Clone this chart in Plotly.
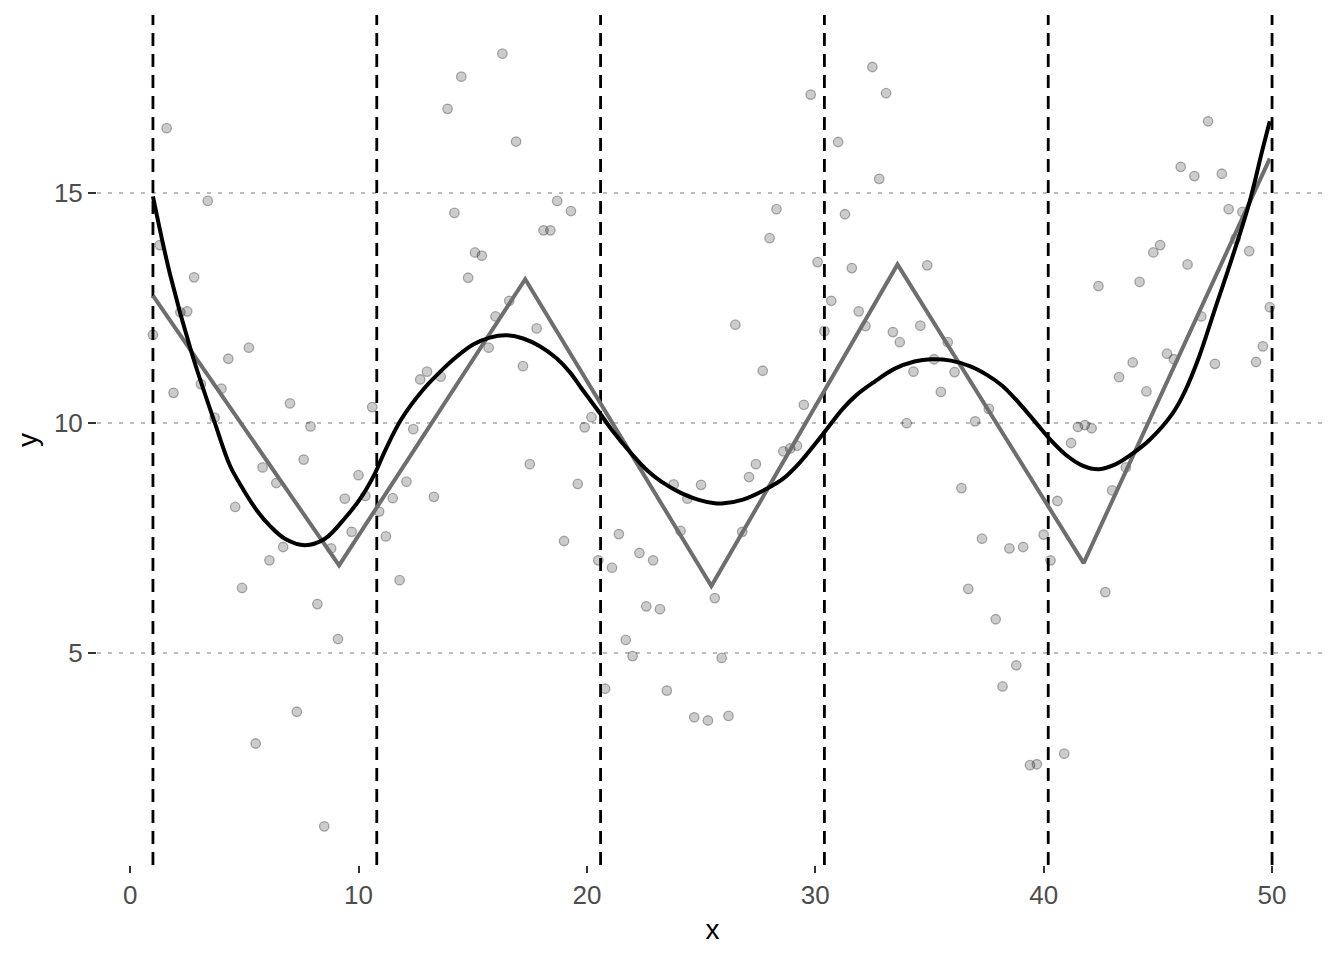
import plotly.graph_objects as go

# ---- scatter data ----
x_pts = [1.0, 1.3, 1.6, 1.9, 2.2, 2.5, 2.8, 3.1, 3.4, 3.7, 4.0, 4.3, 4.6, 4.9, 5.2, 5.5, 5.8, 6.1, 6.4, 6.7,
         7.0, 7.3, 7.6, 7.9, 8.2, 8.5, 8.8, 9.1, 9.4, 9.7, 10.0, 10.3, 10.6, 10.9, 11.2, 11.5, 11.8, 12.1, 12.4, 12.7,
         13.0, 13.3, 13.6, 13.9, 14.2, 14.5, 14.8, 15.1, 15.4, 15.7, 16.0, 16.3, 16.6, 16.9, 17.2, 17.5, 17.8, 18.1, 18.4, 18.7,
         19.0, 19.3, 19.6, 19.9, 20.2, 20.5, 20.8, 21.1, 21.4, 21.7, 22.0, 22.3, 22.6, 22.9, 23.2, 23.5, 23.8, 24.1, 24.4, 24.7,
         25.0, 25.3, 25.6, 25.9, 26.2, 26.5, 26.8, 27.1, 27.4, 27.7, 28.0, 28.3, 28.6, 28.9, 29.2, 29.5, 29.8, 30.1, 30.4, 30.7,
         31.0, 31.3, 31.6, 31.9, 32.2, 32.5, 32.8, 33.1, 33.4, 33.7, 34.0, 34.3, 34.6, 34.9, 35.2, 35.5, 35.8, 36.1, 36.4, 36.7,
         37.0, 37.3, 37.6, 37.9, 38.2, 38.5, 38.8, 39.1, 39.4, 39.7, 40.0, 40.3, 40.6, 40.9, 41.2, 41.5, 41.8, 42.1, 42.4, 42.7,
         43.0, 43.3, 43.6, 43.9, 44.2, 44.5, 44.8, 45.1, 45.4, 45.7, 46.0, 46.3, 46.6, 46.9, 47.2, 47.5, 47.8, 48.1, 48.4, 48.7,
         49.0, 49.3, 49.6, 49.9]
y_pts = [11.91, 13.86, 16.40, 10.65, 12.40, 12.42, 13.16, 10.84, 14.82, 10.11, 10.74, 11.39, 8.17, 6.41, 11.63, 3.03, 9.03, 7.01, 8.69, 7.30,
         10.42, 3.72, 9.20, 9.92, 6.06, 1.23, 7.27, 5.30, 8.35, 7.63, 8.86, 8.41, 10.34, 8.07, 7.53, 8.36, 6.58, 8.72, 9.86, 10.94,
         11.11, 8.39, 11.00, 16.82, 14.56, 17.52, 13.15, 13.70, 13.63, 11.63, 12.31, 18.02, 12.65, 16.11, 11.23, 9.10, 12.05, 14.18, 14.18, 14.82,
         7.43, 14.60, 8.67, 9.90, 10.12, 7.01, 4.22, 6.85, 7.58, 5.28, 4.93, 7.17, 6.01, 7.01, 5.95, 4.18, 8.66, 7.65, 8.35, 3.60,
         8.65, 3.53, 6.19, 4.89, 3.63, 12.13, 7.63, 8.82, 9.10, 11.13, 14.01, 14.64, 9.38, 9.44, 9.50, 10.39, 17.13, 13.49, 11.99, 12.65,
         16.10, 14.53, 13.36, 12.42, 12.10, 17.73, 15.30, 17.16, 11.97, 11.75, 9.99, 11.11, 12.11, 13.42, 11.38, 10.67, 11.75, 11.10, 8.58, 6.39,
         10.03, 7.48, 10.30, 5.73, 4.27, 7.27, 4.73, 7.30, 2.56, 2.58, 7.57, 7.01, 8.30, 2.81, 9.56, 9.91, 9.95, 9.88, 12.97, 6.32,
         8.53, 10.99, 9.03, 11.31, 13.06, 10.68, 13.70, 13.86, 11.50, 11.38, 15.56, 13.44, 15.36, 12.31, 16.55, 11.28, 15.41, 14.64, 14.00, 14.58,
         13.73, 11.32, 11.66, 12.51]

# ---- smooth fit (black) ----
x_smooth = [1.0, 1.75, 2.7, 3.72, 4.37, 4.81, 5.54, 6.12, 6.78, 7.66, 8.53, 9.41, 10.13, 10.72, 11.15, 11.88, 12.8,
            13.56, 14.14, 15.02, 15.75, 16.48, 17.21, 17.94, 18.67, 19.25, 19.76, 20.58, 21.07, 21.95, 22.67, 23.26,
            24.13, 24.86, 25.6, 26.0, 26.83, 27.85, 28.58, 29.31, 30.33, 31.2, 31.8, 32.59, 33.46, 34.34, 35.07, 35.94,
            36.82, 37.55, 38.2, 38.79, 39.51, 40.24, 40.98, 41.7, 42.43, 43.16, 43.89, 44.62, 45.64, 46.2, 46.81,
            47.54, 48.27, 49.0, 49.58, 49.9]
y_smooth = [14.92, 13.22, 11.51, 9.98, 9.07, 8.67, 8.10, 7.76, 7.48, 7.34, 7.48, 7.93, 8.39, 8.90, 9.38, 10.08, 10.70,
            11.10, 11.37, 11.70, 11.85, 11.90, 11.83, 11.66, 11.40, 11.10, 10.75, 10.20, 9.86, 9.33, 8.95, 8.72,
            8.47, 8.33, 8.25, 8.25, 8.33, 8.56, 8.78, 9.13, 9.75, 10.30, 10.60, 10.89, 11.17, 11.33, 11.38, 11.35,
            11.22, 11.03, 10.80, 10.50, 10.09, 9.66, 9.30, 9.07, 8.99, 9.10, 9.33, 9.62, 10.20, 10.70, 11.44,
            12.53, 13.61, 14.77, 15.93, 16.55]

# ---- piecewise linear fit (grey) ----
x_linear = [1.0, 9.15, 17.3, 25.45, 33.6, 41.75, 49.9]
y_linear = [12.76, 6.90, 13.12, 6.45, 13.44, 6.95, 15.74]

# ---- knot positions (dashed vertical lines) ----
knots = [1.0, 10.8, 20.6, 30.4, 40.2, 50.0]

x_ticks = [0, 10, 20, 30, 40, 50]
y_ticks = [5, 10, 15]

# axis ranges with ggplot-style 5% expansion
xmin, xmax = min(min(x_pts), min(knots)), max(max(x_pts), max(knots))
ymin, ymax = min(y_pts), max(y_pts)
xpad, ypad = 0.05 * (xmax - xmin), 0.05 * (ymax - ymin)
xr = [xmin - xpad, xmax + xpad]
yr = [ymin - ypad, ymax + ypad]

fig = go.Figure()

fig.add_trace(go.Scatter(
    x=x_pts, y=y_pts, mode="markers",
    marker=dict(size=9.5, color="rgba(0,0,0,0.2)", line=dict(color="rgba(0,0,0,0.3)", width=1.3)),
    showlegend=False, hoverinfo="x+y"))

vx, vy = [], []
for k in knots:
    vx += [k, k, None]
    vy += [yr[0], yr[1], None]
fig.add_trace(go.Scatter(
    x=vx, y=vy, mode="lines",
    line=dict(color="black", width=2.8, dash="13px,8px"),
    showlegend=False, hoverinfo="skip"))

fig.add_trace(go.Scatter(
    x=x_linear, y=y_linear, mode="lines",
    line=dict(color="#6e6e6e", width=4.0),
    showlegend=False))

fig.add_trace(go.Scatter(
    x=x_smooth, y=y_smooth, mode="lines",
    line=dict(color="black", width=4.0, shape="spline", smoothing=1.0),
    showlegend=False))

tick_font = dict(family="Liberation Sans, Arial, sans-serif", size=26, color="#4d4d4d")
title_font = dict(family="Liberation Sans, Arial, sans-serif", size=28, color="black")

# page body has an 8px margin: compensate so the panel lands where the reference has it
fig.update_layout(
    width=1328, height=944,
    paper_bgcolor="white", plot_bgcolor="white",
    margin=dict(l=89, r=8, t=7, b=87),
    xaxis=dict(
        range=xr, tickvals=x_ticks, ticktext=[str(t) for t in x_ticks],
        showgrid=False, zeroline=False, showline=False,
        ticks="outside", ticklen=7, tickwidth=2, tickcolor="#333333",
        tickfont=tick_font,
        title=dict(text="x", font=title_font, standoff=10),
    ),
    yaxis=dict(
        range=yr, tickvals=y_ticks, ticktext=[str(t) for t in y_ticks],
        showgrid=True, gridcolor="#bdbdbd", gridwidth=2.4, griddash="4px,7px",
        zeroline=False, showline=False,
        ticks="outside", ticklen=8, tickwidth=2, tickcolor="#333333",
        tickfont=tick_font,
        title=dict(text="y", font=title_font, standoff=8),
    ),
)

fig.write_html("out.html")
